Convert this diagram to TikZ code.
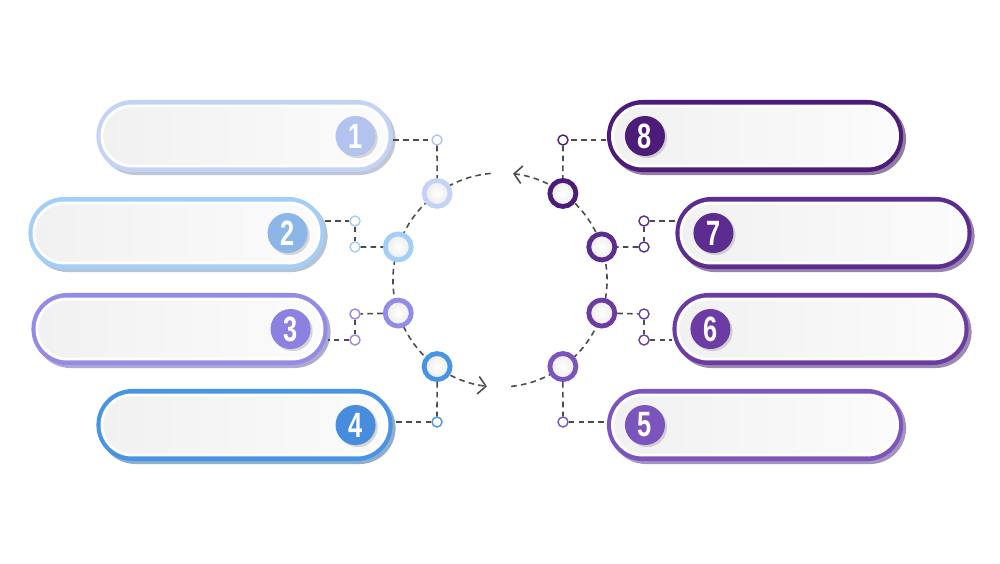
\documentclass[tikz,border=0pt]{standalone}
\usepackage{fontspec}
\newfontfamily\numfont[FakeStretch=0.72]{Liberation Sans}
\usetikzlibrary{arrows.meta,positioning,calc,shapes.misc,shadows}
\definecolor{stepone}{RGB}{196,211,245}
\definecolor{steptwo}{RGB}{162,206,247}
\definecolor{stepthree}{RGB}{146,140,232}
\definecolor{stepfour}{RGB}{72,148,228}
\definecolor{stepfive}{RGB}{124,84,190}
\definecolor{stepsix}{RGB}{108,60,164}
\definecolor{stepseven}{RGB}{92,44,144}
\definecolor{stepeight}{RGB}{76,28,120}
\definecolor{badgeone}{RGB}{178,195,238}
\definecolor{badgetwo}{RGB}{140,182,232}
\definecolor{badgethree}{RGB}{140,128,225}
\definecolor{badgefour}{RGB}{72,140,222}

\begin{document}
\begin{tikzpicture}[
    x=0.01cm, y=0.01cm,
    pill/.style={rounded rectangle, minimum width=2.96cm, minimum height=0.72cm, inner sep=0pt},
    pillface/.style={rounded rectangle, minimum width=2.85cm, minimum height=0.60cm, inner sep=0pt, draw=white, line width=0.8pt, left color=gray!11, right color=gray!3},
    badge/.style={circle, minimum size=0.40cm, inner sep=0pt, text=white, font=\numfont\bfseries\fontsize{10}{11}\selectfont, drop shadow={opacity=0.3, shadow xshift=0.6pt, shadow yshift=-0.6pt}},
    ring/.style={circle, minimum size=0.26cm, inner sep=0pt, draw=#1, line width=0.048cm, inner color=white, outer color=gray!16},
    dot/.style={circle, minimum size=0.10cm, inner sep=0pt, draw=#1, line width=0.4pt, fill=white},
    link/.style={dash pattern=on 1.6pt off 1.2pt, line width=0.45pt, draw=black!70},
    >={Straight Barb[length=2.2pt, width=5pt]}
]
\fill[white] (0,0) rectangle (1000,563);
\useasboundingbox (0,0) rectangle (1000,563);

% pills on the left, badge at the right end
\foreach \n/\px/\py/\col/\bcol in {1/244.5/427/stepone/badgeone, 2/176.5/330/steptwo/badgetwo, 3/179.5/234/stepthree/badgethree, 4/244.5/138/stepfour/badgefour} {
  \node[pill, fill=\col!72!black, opacity=0.55] at (\px+3,\py-3) {};
  \node[pill, fill=\col] (p\n) at (\px,\py) {};
  \node[pillface] at (\px,\py) {};
  \node[badge, fill=\bcol, left=0.17cm of p\n.east] (b\n) {\n};
}
% pills on the right, badge at the left end
\foreach \n/\px/\py/\col in {8/755/427/stepeight, 7/823.5/330/stepseven, 6/820.5/234/stepsix, 5/755/138/stepfive} {
  \node[pill, fill=\col!72!black, opacity=0.55] at (\px+3,\py-3) {};
  \node[pill, fill=\col] (p\n) at (\px,\py) {};
  \node[pillface] at (\px,\py) {};
  \node[badge, fill=\col, right=0.18cm of p\n.west] (b\n) {\n};
}

% dashed cycle
\coordinate (ctr) at (500,283);
\draw[link, ->] ($(ctr)+(95:107)$) arc[start angle=95, end angle=263, radius=1.07cm];
\draw[link, ->] ($(ctr)+(276:107)$) arc[start angle=276, end angle=443, radius=1.07cm];

\foreach \n/\a/\col in {1/126/stepone, 2/162/steptwo, 3/198/stepthree, 4/234/stepfour, 5/306/stepfive, 6/342/stepsix, 7/18/stepseven, 8/54/stepeight}
  \node[ring=\col] (r\n) at ($(ctr)+(\a:107)$) {};

% small joints
\node[dot=badgeone] (d1) at (437,423) {};
\node[dot=steptwo] (d2a) at (355,342) {};
\node[dot=steptwo] (d2b) at (355,316) {};
\node[dot=stepthree] (d3a) at (355,249) {};
\node[dot=stepthree] (d3b) at (355,223) {};
\node[dot=stepfour] (d4) at (437,141) {};
\node[dot=stepeight] (d8) at (563,423) {};
\node[dot=stepseven] (d7a) at (644,342) {};
\node[dot=stepseven] (d7b) at (644,316) {};
\node[dot=stepsix] (d6a) at (644,249) {};
\node[dot=stepsix] (d6b) at (644,223) {};
\node[dot=stepfive] (d5) at (563,141) {};

% connectors
\draw[link] (d1 -| p1.east) -- (d1);
\draw[link] (d1) -- (r1);
\draw[link] (d2a -| p2.east) -- (d2a);
\draw[link] (d2a) -- (d2b);
\draw[link] (d2b) -- (r2);
\draw[link] (r3) -- (d3a);
\draw[link] (d3a) -- (d3b);
\draw[link] (d3b) -- (d3b -| p3.east);
\draw[link] (r4) -- (d4);
\draw[link] (d4) -- (d4 -| p4.east);
\draw[link] (d8 -| p8.west) -- (d8);
\draw[link] (d8) -- (r8);
\draw[link] (d7a -| p7.west) -- (d7a);
\draw[link] (d7a) -- (d7b);
\draw[link] (d7b) -- (r7);
\draw[link] (r6) -- (d6a);
\draw[link] (d6a) -- (d6b);
\draw[link] (d6b) -- (d6b -| p6.west);
\draw[link] (r5) -- (d5);
\draw[link] (d5) -- (d5 -| p5.west);
\end{tikzpicture}
\end{document}
